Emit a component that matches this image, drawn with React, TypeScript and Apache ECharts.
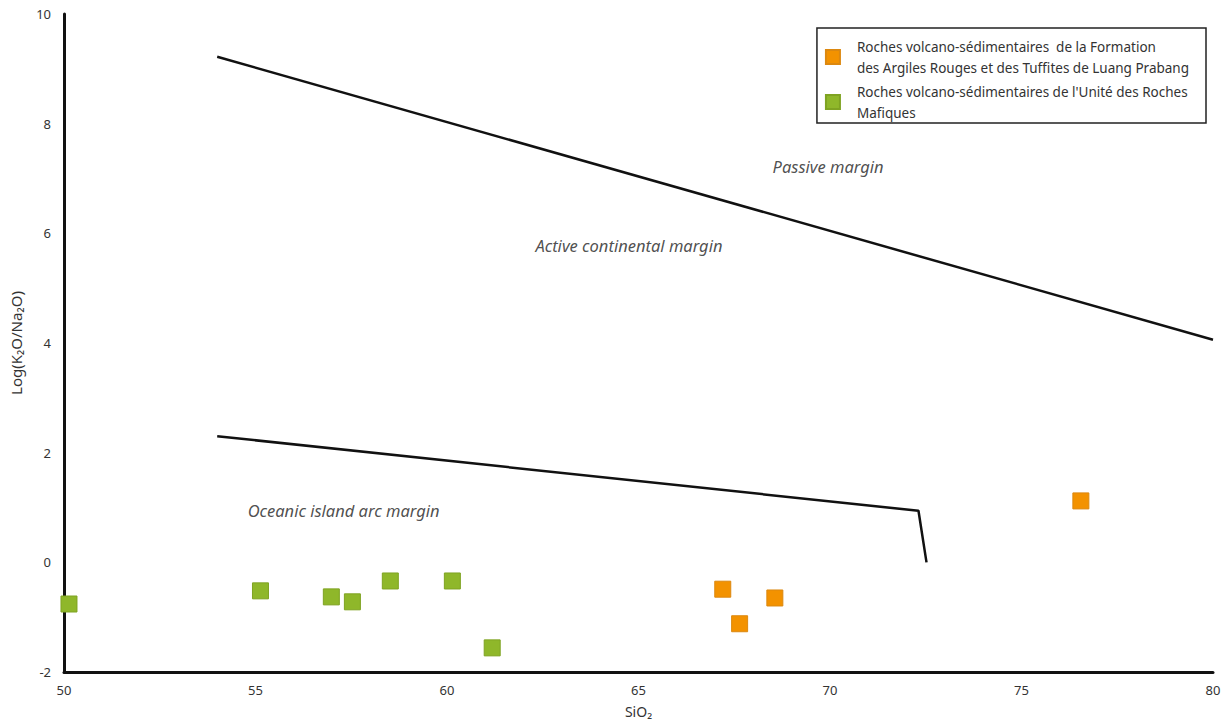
import React, { useEffect, useRef } from "react";
import * as echarts from "echarts";

const xTicks = { min: 50, max: 80, interval: 5 };
const yTicks = { min: -2, max: 10, interval: 2 };

const orangeName =
  "Roches volcano-sédimentaires  de la Formation\ndes Argiles Rouges et des Tuffites de Luang Prabang";
const greenName =
  "Roches volcano-sédimentaires de l'Unité des Roches\nMafiques";

const orangePoints: [number, number][] = [
  [67.2, -0.49],
  [67.64, -1.12],
  [68.56, -0.65],
  [76.55, 1.12],
];

const greenPoints: [number, number][] = [
  [50.13, -0.76],
  [55.13, -0.52],
  [56.98, -0.63],
  [57.53, -0.72],
  [58.52, -0.34],
  [60.14, -0.34],
  [61.18, -1.56],
];

const upperBoundary: [number, number][] = [
  [54, 9.22],
  [80, 4.06],
];

const lowerBoundary: [number, number][] = [
  [54, 2.3],
  [72.31, 0.94],
  [72.52, 0.0],
];

const regionLabels: { name: string; value: [number, number] }[] = [
  { name: "Passive margin", value: [69.95, 7.21] },
  { name: "Active continental margin", value: [64.75, 5.77] },
  { name: "Oceanic island arc margin", value: [57.3, 0.94] },
];

export default function App() {
  const ref = useRef<HTMLDivElement>(null);
  useEffect(() => {
    if (!ref.current) return;
    const chart = echarts.init(ref.current, undefined, { renderer: "svg" });
    const font = "'Noto Sans', 'DejaVu Sans', sans-serif";
    chart.setOption({
      animation: false,
      backgroundColor: "#ffffff",
      textStyle: { fontFamily: font },
      grid: { left: 62, right: 16, top: 14, bottom: 54, containLabel: false },
      legend: {
        orient: "vertical",
        right: 23,
        top: 28,
        data: [orangeName, greenName],
        borderColor: "#222",
        borderWidth: 1.5,
        padding: [8, 17, 0, 8],
        itemWidth: 14,
        itemHeight: 14,
        itemGap: 3,
        icon: "rect",
        itemStyle: { opacity: 1 },
        textStyle: {
          fontSize: 13.5,
          lineHeight: 21,
          color: "#333",
          fontFamily: font,
          padding: [0, 0, 0, 12],
        },
      },
      xAxis: {
        type: "value",
        min: xTicks.min,
        max: xTicks.max,
        interval: xTicks.interval,
        name: "SiO₂",
        nameLocation: "middle",
        nameGap: 32,
        nameTextStyle: { fontSize: 14, color: "#333", fontFamily: font },
        axisLine: { show: true, onZero: false, lineStyle: { color: "#111", width: 3 } },
        axisTick: { show: false },
        splitLine: { show: false },
        axisLabel: { fontSize: 13, color: "#333", margin: 11, fontFamily: font },
      },
      yAxis: {
        type: "value",
        min: yTicks.min,
        max: yTicks.max,
        interval: yTicks.interval,
        name: "Log(K₂O/Na₂O)",
        nameLocation: "middle",
        nameGap: 41,
        nameTextStyle: { fontSize: 15, color: "#333", fontFamily: font },
        axisLine: { show: true, onZero: false, lineStyle: { color: "#111", width: 3 } },
        axisTick: { show: false },
        splitLine: { show: false },
        axisLabel: { fontSize: 13, color: "#333", margin: 13, fontFamily: font },
      },
      series: [
        {
          name: "upper",
          type: "line",
          data: upperBoundary,
          symbol: "none",
          lineStyle: { color: "#111", width: 2.5 },
          silent: true,
          z: 2,
        },
        {
          name: "lower",
          type: "line",
          data: lowerBoundary,
          symbol: "none",
          lineStyle: { color: "#111", width: 2.5 },
          silent: true,
          z: 2,
        },
        {
          name: "regions",
          type: "scatter",
          data: regionLabels,
          symbolSize: 0,
          silent: true,
          label: {
            show: true,
            position: "inside",
            formatter: (p: any) => p.name,
            fontStyle: "italic",
            fontSize: 16.5,
            color: "#222",
            fontFamily: font,
          },
          z: 3,
        },
        {
          name: orangeName,
          type: "scatter",
          data: orangePoints,
          symbol: "rect",
          symbolSize: 16,
          itemStyle: { color: "#f39200", borderColor: "#dc8810", borderWidth: 1, opacity: 1 },
          z: 5,
        },
        {
          name: greenName,
          type: "scatter",
          data: greenPoints,
          symbol: "rect",
          symbolSize: 16,
          itemStyle: { color: "#8fb72a", borderColor: "#7fa322", borderWidth: 1, opacity: 1 },
          z: 5,
        },
      ],
    });
    return () => chart.dispose();
  }, []);
  return (
    <div
      ref={ref}
      style={{ position: "fixed", left: 0, top: 0, width: 1229, height: 726 }}
    />
  );
}
